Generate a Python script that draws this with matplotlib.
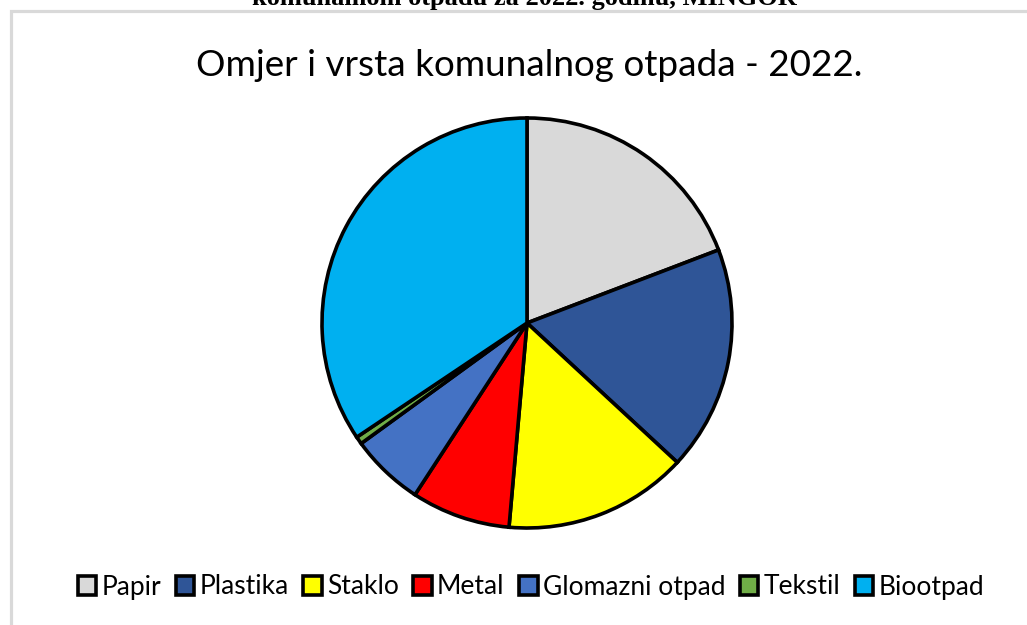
import matplotlib.pyplot as plt
from matplotlib.patches import Rectangle

# data (shares in %)
categories = ["Papir", "Plastika", "Staklo", "Metal", "Glomazni otpad", "Tekstil", "Biootpad"]
shares = [19.2, 17.7, 14.5, 7.8, 5.8, 0.6, 34.4]
colors = ["#d9d9d9", "#2f5597", "#ffff00", "#ff0000", "#4472c4", "#70ad47", "#00b0f0"]

title = "Omjer i vrsta komunalnog otpada - 2022."
caption = "komunalnom otpadu za 2022. godinu, MINGOR"

W, H = 1027, 625
fig = plt.figure(figsize=(W / 100, H / 100), dpi=100)

# cropped caption line from the document above the chart
fig.text(524 / W, 1 - 5 / H, caption, ha="center", va="baseline",
         fontsize=19, fontweight="bold", family="Liberation Serif")

# chart frame (only top and left edges visible in the crop)
fig.add_artist(Rectangle((10.5 / W, -0.1), 1.2, 1 - 11.5 / H + 0.1, transform=fig.transFigure,
                         fill=False, ec="#d9d9d9", lw=2.3))

fig.text(529 / W, 1 - 66 / H, title, ha="center", va="center",
         fontsize=26.6, family="Lato")

# pie: centre (527, 323), radius 205 px
cx, cy, r = 527, 323, 205
ax = fig.add_axes([(cx - r) / W, (H - cy - r) / H, 2 * r / W, 2 * r / H])
wedges, _ = ax.pie(shares, colors=colors, startangle=90, counterclock=False,
                   wedgeprops=dict(edgecolor="black", linewidth=2.6, clip_on=False))
ax.set_xlim(-1, 1)
ax.set_ylim(-1, 1)
ax.axis("off")

fig.legend(wedges, categories, loc="center", bbox_to_anchor=(531 / W, 1 - 587 / H),
           ncol=len(categories), frameon=False, prop=dict(family="Lato", size=19),
           handlelength=0.7, handleheight=0.7, handletextpad=0.2, columnspacing=0.55)

fig.savefig("out.png", dpi=100)
